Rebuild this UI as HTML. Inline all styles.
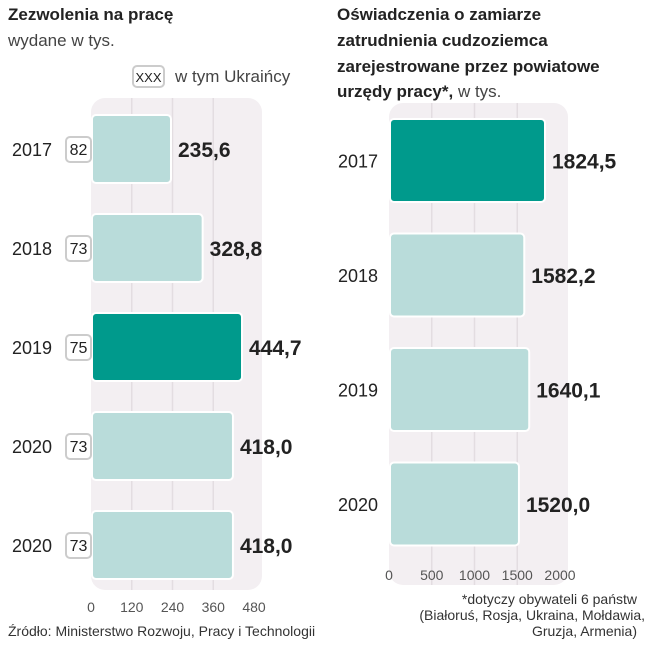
<!DOCTYPE html>
<html><head><meta charset="utf-8"><style>
body{margin:0;background:#fff;width:652px;height:640px;overflow:hidden;font-family:"Liberation Sans",sans-serif;}
svg text{font-family:"Liberation Sans",sans-serif;}
</style></head><body>
<svg id="c" width="652" height="640">
<text x="8" y="20" font-size="17" font-weight="bold" fill="#222">Zezwolenia na pracę</text>
<text x="8" y="46" font-size="17" fill="#444">wydane w tys.</text>
<g>
<rect x="133" y="66" width="31" height="21" rx="4" fill="#fff" stroke="#ccc" stroke-width="2"/>
<text x="148.5" y="82" font-size="13" text-anchor="middle" fill="#222">XXX</text>
<text x="175" y="82" font-size="17" fill="#444">w tym Ukraińcy</text>
</g>
<text x="337" y="20" font-size="17" font-weight="bold" fill="#222">Oświadczenia o zamiarze</text>
<text x="337" y="46" font-size="17" font-weight="bold" fill="#222">zatrudnienia cudzoziemca</text>
<text x="337" y="72" font-size="17" font-weight="bold" fill="#222">zarejestrowane przez powiatowe</text>
<text x="337" y="97" font-size="17" fill="#444"><tspan font-weight="bold" fill="#222">urzędy pracy*,</tspan> w tys.</text>
<g id="L"></g><g id="R"></g>
<text x="8" y="636" font-size="14" fill="#333">Źródło: Ministerstwo Rozwoju, Pracy i Technologii</text>
<text x="637" y="604" font-size="14" text-anchor="end" fill="#333">*dotyczy obywateli 6 państw</text>
<text x="645" y="620" font-size="14" text-anchor="end" fill="#333">(Białoruś, Rosja, Ukraina, Mołdawia,</text>
<text x="637" y="636" font-size="14" text-anchor="end" fill="#333">Gruzja, Armenia)</text>
</svg>
<script>
const leftYears=["2017","2018","2019","2020","2020"];
const leftValues=[235.6,328.8,444.7,418.0,418.0];
const leftUkr=[82,73,75,73,73];
const leftLabels=["235,6","328,8","444,7","418,0","418,0"];
const leftTicks=[0,120,240,360,480];
const rightYears=["2017","2018","2019","2020"];
const rightValues=[1824.5,1582.2,1640.1,1520.0];
const rightLabels=["1824,5","1582,2","1640,1","1520,0"];
const rightTicks=[0,500,1000,1500,2000];
const NS="http://www.w3.org/2000/svg";
function mk(p,t,a,txt){const e=document.createElementNS(NS,t);for(const k in a)e.setAttribute(k,a[k]);if(txt!=null)e.textContent=txt;p.appendChild(e);return e;}
function draw(g,o){
 const xs=v=>o.x0+(v-o.t[0])/(o.t[o.t.length-1]-o.t[0])*(o.x1-o.x0);
 const pan=mk(g,'rect',{x:o.x0,y:o.py0,width:o.x1-o.x0+8,height:o.py1-o.py0,rx:14,fill:'#f3eff2'});
 
 
 o.t.forEach((t,i)=>{
  if(i>0&&i<o.t.length-1){const l=mk(g,'line',{x1:xs(t),x2:xs(t),y1:o.py0,y2:o.py1,stroke:'#e3dde1','stroke-width':1.5});
   
   }
  const tx=mk(g,'text',{x:xs(t),y:o.ty,'font-size':14,'text-anchor':'middle',fill:'#555'},t);
  
  
 });
 o.v.forEach((v,i)=>{
  const y=o.y0+i*o.band;
  const b=mk(g,'rect',{x:o.x0+1,y:y,width:xs(v)-o.x0-1,height:o.bh,rx:4,fill:i===o.hi?'#009a8c':'#b9dcda',stroke:'#fff','stroke-width':2});
  
  
  const yl=mk(g,'text',{x:o.yx,y:y+o.bh/2+7,'font-size':18,fill:'#222'},o.c[i]);
  
  
  const vl=mk(g,'text',{x:xs(v)+7,y:y+o.bh/2+8,'font-size':21,'font-weight':'bold',fill:'#222'},o.lab[i]);
  
  
  if(o.u){
   const bx=mk(g,'rect',{x:o.x0-25,y:y+o.bh/2-12,width:25,height:25,rx:4,fill:'#fff',stroke:'#ccc','stroke-width':2});
   
   
   const ut=mk(g,'text',{x:o.x0-12.5,y:y+o.bh/2+6,'font-size':16,'text-anchor':'middle',fill:'#222'},o.u[i]);
   
   
  }
 });
}
draw(document.getElementById('L'),{n:'left',x0:91,x1:254,t:leftTicks,v:leftValues,c:leftYears,lab:leftLabels,u:leftUkr,hi:2,py0:98,py1:590,ty:612,y0:115,band:99,bh:68,yx:12});
draw(document.getElementById('R'),{n:'right',x0:389,x1:560,t:rightTicks,v:rightValues,c:rightYears,lab:rightLabels,hi:0,py0:103,py1:585,ty:580,y0:119,band:114.5,bh:83,yx:338});
</script>
</body></html>
